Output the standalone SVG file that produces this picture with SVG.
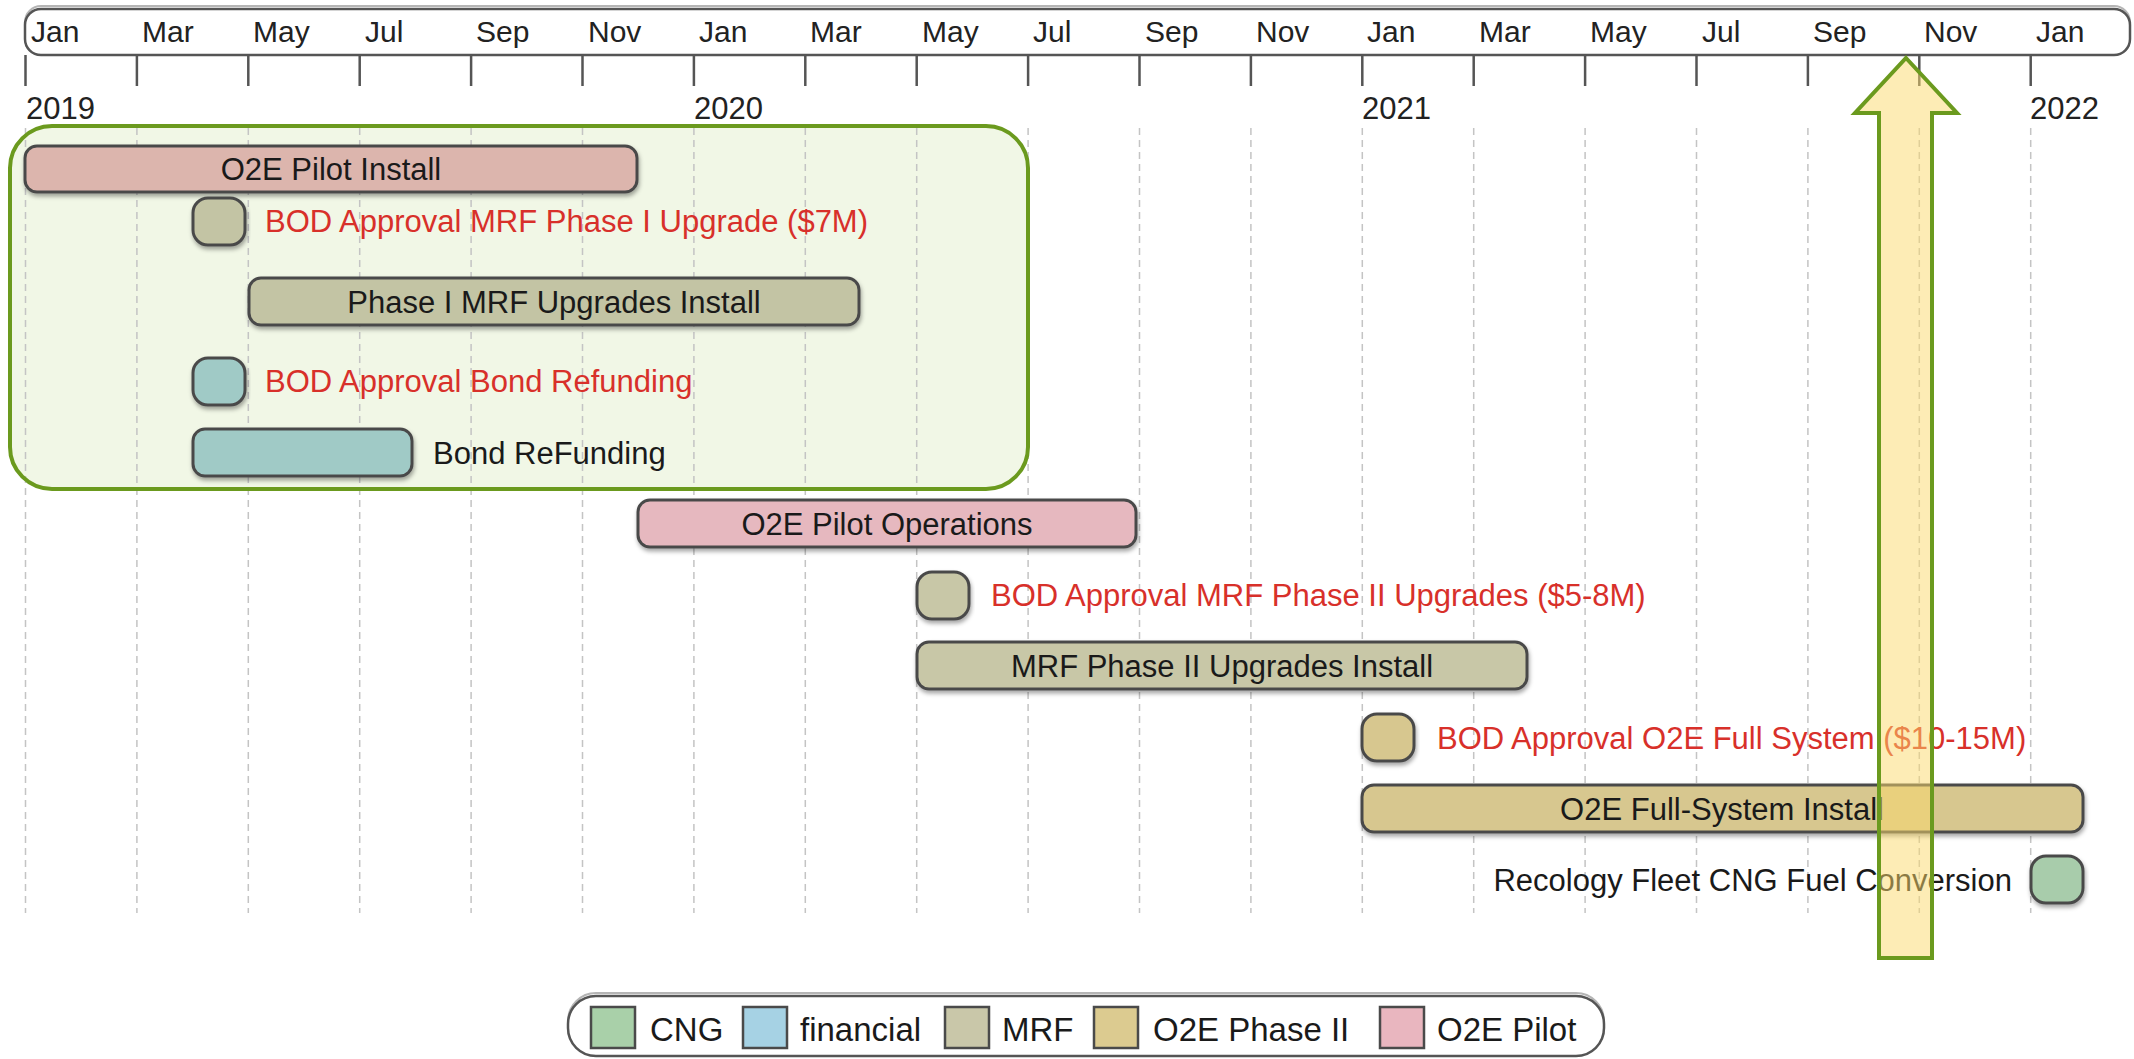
<svg xmlns="http://www.w3.org/2000/svg" width="2134" height="1059" viewBox="0 0 2134 1059">
<defs>
<style>
text{font-family:"Liberation Sans",Arial,sans-serif;}
.mon{font-size:30px;fill:#222;}
.yr{font-size:31px;fill:#222;}
.lbl{font-size:31px;fill:#1a1a1a;}
.red{font-size:31px;fill:#d8302a;}
.leg{font-size:33px;fill:#1a1a1a;}
.tick{stroke:#555;stroke-width:2.5;}
.grid{stroke:#c4c4c4;stroke-width:1.5;stroke-dasharray:7 5;}
.bar{stroke:#4a4a4a;stroke-width:3;filter:url(#sh);}
.pilot{fill:#e6b8bf;}
.pilot-in{fill:#dcb5ad;}
.mrf{fill:#c8c7a7;}
.mrf-in{fill:#c3c4a4;}
.fin-in{fill:#a0cac6;}
.o2e{fill:#d7c78f;}
.cng{fill:#a8ccab;}
.sw{stroke:#4a4a4a;stroke-width:2.5;}
</style>
<filter id="sh" x="-10%" y="-30%" width="120%" height="170%">
<feDropShadow dx="1" dy="3" stdDeviation="2" flood-color="#000" flood-opacity="0.35"/>
</filter>
</defs>
<rect width="2134" height="1059" fill="#ffffff"/>

<g id="phase1-group-fill">
<rect x="10" y="126" width="1018" height="363" rx="42" fill="#f1f7e6"/>
</g>

<g id="header">
<rect x="25" y="6" width="2105" height="49" rx="16" fill="none" stroke="#b5b5b5" stroke-width="2"/>
<rect x="25" y="9" width="2105" height="46" rx="16" fill="#ffffff" stroke="#555" stroke-width="2.5"/>
<g class="mon">
<text x="31" y="42">Jan</text>
<text x="142" y="42">Mar</text>
<text x="253" y="42">May</text>
<text x="365" y="42">Jul</text>
<text x="476" y="42">Sep</text>
<text x="588" y="42">Nov</text>
<text x="699" y="42">Jan</text>
<text x="810" y="42">Mar</text>
<text x="922" y="42">May</text>
<text x="1033" y="42">Jul</text>
<text x="1145" y="42">Sep</text>
<text x="1256" y="42">Nov</text>
<text x="1367" y="42">Jan</text>
<text x="1479" y="42">Mar</text>
<text x="1590" y="42">May</text>
<text x="1702" y="42">Jul</text>
<text x="1813" y="42">Sep</text>
<text x="1924" y="42">Nov</text>
<text x="2036" y="42">Jan</text>
</g>
<g class="tick">
<line x1="25.5" y1="55" x2="25.5" y2="86"/>
<line x1="136.9" y1="55" x2="136.9" y2="86"/>
<line x1="248.3" y1="55" x2="248.3" y2="86"/>
<line x1="359.7" y1="55" x2="359.7" y2="86"/>
<line x1="471.1" y1="55" x2="471.1" y2="86"/>
<line x1="582.5" y1="55" x2="582.5" y2="86"/>
<line x1="693.9" y1="55" x2="693.9" y2="86"/>
<line x1="805.3" y1="55" x2="805.3" y2="86"/>
<line x1="916.7" y1="55" x2="916.7" y2="86"/>
<line x1="1028.1" y1="55" x2="1028.1" y2="86"/>
<line x1="1139.5" y1="55" x2="1139.5" y2="86"/>
<line x1="1250.9" y1="55" x2="1250.9" y2="86"/>
<line x1="1362.3" y1="55" x2="1362.3" y2="86"/>
<line x1="1473.7" y1="55" x2="1473.7" y2="86"/>
<line x1="1585.1" y1="55" x2="1585.1" y2="86"/>
<line x1="1696.5" y1="55" x2="1696.5" y2="86"/>
<line x1="1807.9" y1="55" x2="1807.9" y2="86"/>
<line x1="1919.3" y1="55" x2="1919.3" y2="86"/>
<line x1="2030.7" y1="55" x2="2030.7" y2="86"/>
</g>
<g class="yr">
<text x="26" y="119">2019</text>
<text x="694" y="119">2020</text>
<text x="1362" y="119">2021</text>
<text x="2030" y="119">2022</text>
</g>
</g>

<g id="grid" class="grid">
<line x1="25.5" y1="128" x2="25.5" y2="913"/>
<line x1="136.9" y1="128" x2="136.9" y2="913"/>
<line x1="248.3" y1="128" x2="248.3" y2="913"/>
<line x1="359.7" y1="128" x2="359.7" y2="913"/>
<line x1="471.1" y1="128" x2="471.1" y2="913"/>
<line x1="582.5" y1="128" x2="582.5" y2="913"/>
<line x1="693.9" y1="128" x2="693.9" y2="913"/>
<line x1="805.3" y1="128" x2="805.3" y2="913"/>
<line x1="916.7" y1="128" x2="916.7" y2="913"/>
<line x1="1028.1" y1="128" x2="1028.1" y2="913"/>
<line x1="1139.5" y1="128" x2="1139.5" y2="913"/>
<line x1="1250.9" y1="128" x2="1250.9" y2="913"/>
<line x1="1362.3" y1="128" x2="1362.3" y2="913"/>
<line x1="1473.7" y1="128" x2="1473.7" y2="913"/>
<line x1="1585.1" y1="128" x2="1585.1" y2="913"/>
<line x1="1696.5" y1="128" x2="1696.5" y2="913"/>
<line x1="1807.9" y1="128" x2="1807.9" y2="913"/>
<line x1="1919.3" y1="128" x2="1919.3" y2="913"/>
<line x1="2030.7" y1="128" x2="2030.7" y2="913"/>
</g>

<g id="o2e-pilot-install">
<rect class="bar pilot-in" x="25" y="146" width="612" height="46" rx="12"/>
<text class="lbl" x="331" y="180" text-anchor="middle">O2E Pilot Install</text>
</g>
<g id="bod-mrf-phase1">
<rect class="bar mrf-in" x="193" y="198" width="52" height="47" rx="15"/>
<text class="red" x="265" y="232">BOD Approval MRF Phase I Upgrade ($7M)</text>
</g>
<g id="phase1-mrf-install">
<rect class="bar mrf-in" x="249" y="278" width="610" height="47" rx="12"/>
<text class="lbl" x="554" y="313" text-anchor="middle">Phase I MRF Upgrades Install</text>
</g>
<g id="bod-bond-refunding">
<rect class="bar fin-in" x="193" y="358" width="52" height="47" rx="15"/>
<text class="red" x="265" y="392">BOD Approval Bond Refunding</text>
</g>
<g id="bond-refunding">
<rect class="bar fin-in" x="193" y="429" width="219" height="47" rx="12"/>
<text class="lbl" x="433" y="464">Bond ReFunding</text>
</g>

<g id="phase1-group">
<rect x="10" y="126" width="1018" height="363" rx="42" fill="none" stroke="#6b9a1e" stroke-width="4"/>
</g>

<g id="o2e-pilot-operations">
<rect class="bar pilot" x="638" y="500" width="498" height="47" rx="12"/>
<text class="lbl" x="887" y="535" text-anchor="middle">O2E Pilot Operations</text>
</g>
<g id="bod-mrf-phase2">
<rect class="bar mrf" x="917" y="572" width="52" height="47" rx="15"/>
<text class="red" x="991" y="606">BOD Approval MRF Phase II Upgrades ($5-8M)</text>
</g>
<g id="mrf-phase2-install">
<rect class="bar mrf" x="917" y="642" width="610" height="47" rx="12"/>
<text class="lbl" x="1222" y="677" text-anchor="middle">MRF Phase II Upgrades Install</text>
</g>
<g id="bod-o2e-full">
<rect class="bar o2e" x="1362" y="714" width="52" height="47" rx="15"/>
<text class="red" x="1437" y="749">BOD Approval O2E Full System ($10-15M)</text>
</g>
<g id="o2e-full-install">
<rect class="bar o2e" x="1362" y="785" width="721" height="47" rx="12"/>
<text class="lbl" x="1722" y="820" text-anchor="middle">O2E Full-System Install</text>
</g>
<g id="recology-cng">
<rect class="bar cng" x="2031" y="856" width="52" height="47" rx="15"/>
<text class="lbl" x="2012" y="891" text-anchor="end">Recology Fleet CNG Fuel Conversion</text>
</g>

<g id="today-arrow">
<polygon points="1906,58 1957,113 1932,113 1932,958 1879,958 1879,113 1855,113" fill="#fcd96b" fill-opacity="0.5" stroke="#6b9a1e" stroke-width="4" stroke-linejoin="miter"/>
</g>

<g id="connectors"></g>

<g id="legend">
<rect x="568" y="993" width="1036" height="62" rx="28" fill="none" stroke="#b5b5b5" stroke-width="2"/>
<rect x="568" y="996" width="1036" height="60" rx="28" fill="#ffffff" stroke="#555" stroke-width="2.5"/>
<rect class="sw" x="591" y="1007" width="44" height="41" fill="#a9d0a9"/>
<text class="leg" x="650" y="1041">CNG</text>
<rect class="sw" x="743" y="1007" width="44" height="41" fill="#a6d2e4"/>
<text class="leg" x="800" y="1041">financial</text>
<rect class="sw" x="945" y="1007" width="44" height="41" fill="#c9c7a9"/>
<text class="leg" x="1002" y="1041">MRF</text>
<rect class="sw" x="1094" y="1007" width="44" height="41" fill="#dccb90"/>
<text class="leg" x="1153" y="1041">O2E Phase II</text>
<rect class="sw" x="1380" y="1007" width="44" height="41" fill="#e9b6bf"/>
<text class="leg" x="1437" y="1041">O2E Pilot</text>
</g>
</svg>
